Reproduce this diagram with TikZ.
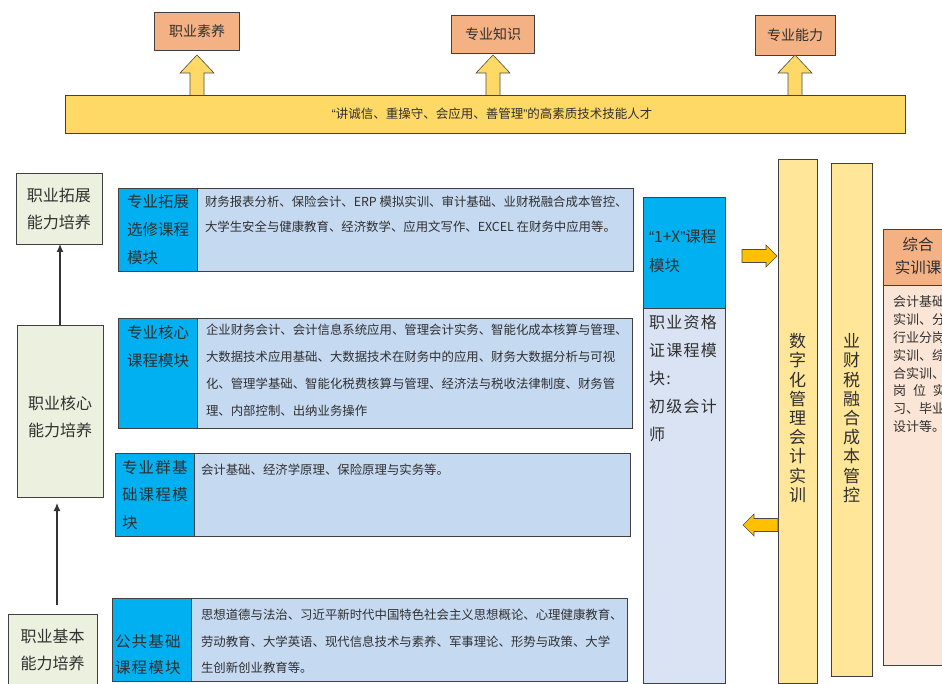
\documentclass[tikz,border=0pt]{standalone}
\usepackage{fontspec}
\setmainfont{Noto Sans CJK SC}
\newfontfamily\cjkspaced[LetterSpace=8]{Noto Sans CJK SC}
\newfontfamily\qf{Liberation Sans}
\usetikzlibrary{arrows.meta}
\definecolor{bd}{HTML}{404040}
\definecolor{orangebox}{HTML}{F4B183}
\definecolor{goldbar}{HTML}{FFD966}
\definecolor{greenbox}{HTML}{EBF1DE}
\definecolor{bluelab}{HTML}{00B0F0}
\definecolor{bluebody}{HTML}{C5D9F1}
\definecolor{lavender}{HTML}{DAE3F3}
\definecolor{paleyellow}{HTML}{FFE699}
\definecolor{arrowgold}{HTML}{FFC000}
\definecolor{peach}{HTML}{FBE5D6}
\definecolor{txt}{HTML}{303030}
\newcommand\fsz[2]{\fontsize{#1}{#2}\selectfont}
\begin{document}
\begin{tikzpicture}[x=1pt,y=-1pt,
  every node/.style={inner sep=0pt, outer sep=0pt, text=txt},
  frame/.style={draw=bd, line width=0.9pt},
  tbox/.style={frame, fill=orangebox, font=\fsz{14}{16}},
  gbox/.style={frame, fill=greenbox},
  gtext/.style={align=center, font=\fsz{16}{27}},
  lab/.style={frame, fill=bluelab},
  bod/.style={frame, fill=bluebody},
  ttext/.style={anchor=north west, align=left},
  labtext/.style={ttext, font=\fsz{15.5}{28}},
  bodtext/.style={ttext, font=\fsz{12.4}{25}},
  vtext/.style={align=center, font=\fsz{17}{19.2}},
  blockarr/.style={draw=gray!60!black, line width=0.6pt, line join=miter},
  conn/.style={draw=black!80, line width=1.3pt, -{Latex[length=8pt,width=7pt]}}
]
\useasboundingbox (0,0) rectangle (942,684);
\clip (0,0) rectangle (942,684);
\fill[white] (0,0) rectangle (942,684);

% ---- top row
\node[tbox, minimum width=85pt, minimum height=38pt] (t1) at (197,31) {职业素养};
\node[tbox, minimum width=83pt, minimum height=38pt] (t2) at (493,34) {专业知识};
\node[tbox, minimum width=80pt, minimum height=40pt] (t3) at (795,35) {专业能力};

\node[frame, fill=goldbar, minimum width=840pt, minimum height=38pt] (bar) at (485,114) {};
\node[font=\fsz{12.5}{15}] (bartext) at (492,114) {{\qf“}讲诚信、重操守、会应用、善管理{\qf”}的高素质技术技能人才};

\foreach \c in {197,493,795}{
  \draw[blockarr, fill=goldbar] (\c-7,95) -- (\c-7,73) -- (\c-17,73) -- (\c,55) -- (\c+17,73) -- (\c+7,73) -- (\c+7,95);
}

% ---- left column
\node[gbox, minimum width=86pt, minimum height=71pt] (g1) at (59,208.5) {};
\node[gtext] (g1t) at (59,208.5) {职业拓展\\能力培养};
\node[gbox, minimum width=86pt, minimum height=172pt] (g2) at (60,411) {};
\node[gtext] (g2t) at (60,416.5) {职业核心\\能力培养};
\node[gbox, minimum width=89pt, minimum height=73pt] (g3) at (52.5,650.5) {};
\node[gtext] (g3t) at (52.5,649.5) {职业基本\\能力培养};
\draw[conn] (g2.north) -- (g2.north |- g1.south);
\draw[conn, shorten >=6pt] ([xshift=4.5pt,yshift=9pt]g3.north) -- ([xshift=-3pt]g2.south);

% ---- module 1
\node[lab, minimum width=79pt, minimum height=83pt] (m1l) at (157.5,229.5) {};
\node[bod, minimum width=436pt, minimum height=83pt] (m1b) at (415,229.5) {};
\node[labtext] (m1lt) at (127,194) {专业拓展\\选修课程\\模块};
\node[bodtext] (m1bt) at (205,196) {财务报表分析、保险会计、ERP 模拟实训、审计基础、业财税融合成本管控、\\大学生安全与健康教育、经济数学、应用文写作、EXCEL 在财务中应用等。};

% ---- module 2
\node[lab, minimum width=79pt, minimum height=110pt] (m2l) at (157.5,373) {};
\node[bod, minimum width=435pt, minimum height=110pt] (m2b) at (414.5,373) {};
\node[labtext] (m2lt) at (127,325) {专业核心\\课程模块};
\node[bodtext, font=\fsz{12.4}{27}] (m2bt) at (206,324) {企业财务会计、会计信息系统应用、管理会计实务、智能化成本核算与管理、\\大数据技术应用基础、大数据技术在财务中的应用、财务大数据分析与可视\\化、管理学基础、智能化税费核算与管理、经济法与税收法律制度、财务管\\理、内部控制、出纳业务操作};

% ---- module 3
\node[lab, minimum width=79pt, minimum height=83pt] (m3l) at (154.5,494.5) {};
\node[bod, minimum width=436pt, minimum height=83pt] (m3b) at (412,494.5) {};
\node[labtext, font=\cjkspaced\fsz{15.5}{27.5}] (m3lt) at (122,460) {专业群基\\础课程模\\块};
\node[bodtext] (m3bt) at (201,464) {会计基础、经济学原理、保险原理与实务等。};

% ---- module 4
\node[lab, minimum width=79pt, minimum height=83pt] (m4l) at (151.5,640) {};
\node[bod, minimum width=436pt, minimum height=83pt] (m4b) at (409,640) {};
\node[labtext, font=\cjkspaced\fsz{15.5}{26}] (m4lt) at (115,634) {公共基础\\课程模块};
\node[bodtext, font=\fsz{12.4}{26.5}] (m4bt) at (201,609) {思想道德与法治、习近平新时代中国特色社会主义思想概论、心理健康教育、\\劳动教育、大学英语、现代信息技术与素养、军事理论、形势与政策、大学\\生创新创业教育等。};

% ---- 1+X column
\node[frame, fill=bluelab, minimum width=82pt, minimum height=111pt] (xh) at (684,252.5) {};
\node[frame, fill=lavender, minimum width=82pt, minimum height=375pt] (xb) at (684,495.5) {};
\node[ttext, font=\fsz{15.5}{29}] (xht) at (649,230) {{\qf“}1+X{\qf”}课程\\模块};
\node[ttext, font=\cjkspaced\fsz{16}{28}] (xbt) at (649,315) {职业资格\\证课程模\\块:\\初级会计\\师};

% ---- vertical bars
\node[frame, fill=paleyellow, minimum width=39pt, minimum height=524pt] (b1) at (797.5,421) {};
\node[frame, fill=paleyellow, minimum width=41pt, minimum height=513pt] (b2) at (851.5,419.5) {};
\node[vtext] (b1t) at (797.5,418) {数\\字\\化\\管\\理\\会\\计\\实\\训};
\node[vtext] (b2t) at (851.5,418) {业\\财\\税\\融\\合\\成\\本\\管\\控};

\draw[blockarr, fill=arrowgold] (742,249.5) -- (766,249.5) -- (766,245) -- (777,256) -- (766,267) -- (766,262.5) -- (742,262.5) -- cycle;
\draw[blockarr, fill=arrowgold] (778,518.5) -- (754,518.5) -- (754,514) -- (743,525) -- (754,536) -- (754,531.5) -- (778,531.5) -- cycle;

% ---- right box
\node[frame, fill=orangebox, minimum width=72pt, minimum height=56pt] (zh) at (919,257) {};
\node[frame, fill=peach, minimum width=72pt, minimum height=380pt] (zb) at (919,475) {};
\node[align=center, font=\fsz{15.5}{23}] (zht) at (918,256.5) {综合\\实训课};
\node[ttext, font=\fsz{13}{17.9}] (zbt) at (893,295.5) {会计基础\\实训、分\\行业分岗\\实训、综\\合实训、\\岗\hspace{7pt}位\hspace{7pt}实\\习、毕业\\设计等。};
\end{tikzpicture}
\end{document}
